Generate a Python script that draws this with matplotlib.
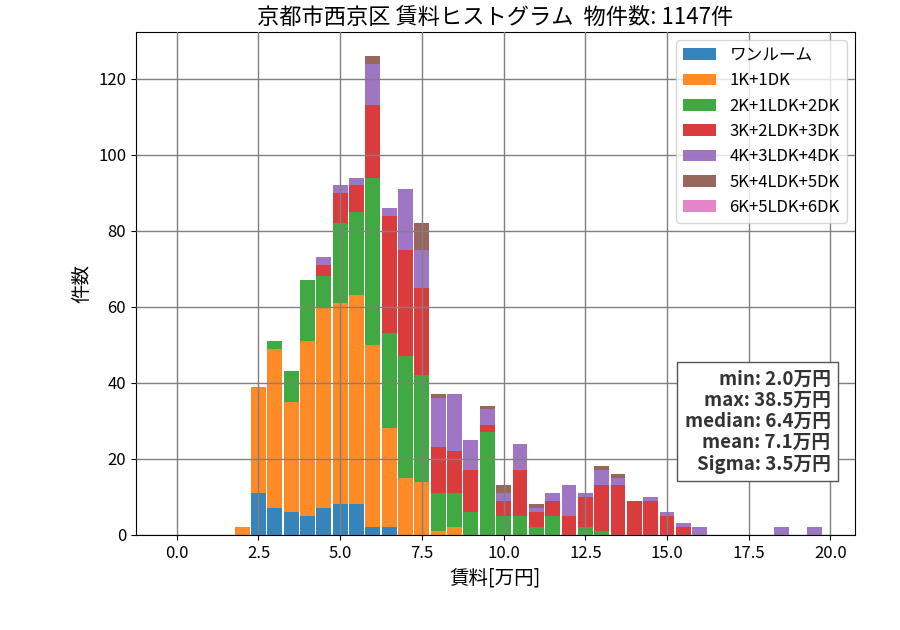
import matplotlib
matplotlib.use("Agg")
import matplotlib.pyplot as plt
import numpy as np

plt.rcParams['font.family'] = ['Noto Sans CJK JP', 'DejaVu Sans']

centers = [2.0, 2.5, 3.0, 3.5, 4.0, 4.5, 5.0, 5.5, 6.0, 6.5, 7.0, 7.5, 8.0, 8.5, 9.0, 9.5,
           10.0, 10.5, 11.0, 11.5, 12.0, 12.5, 13.0, 13.5, 14.0, 14.5, 15.0, 15.5, 16.0, 18.5, 19.5]
series_names = ["ワンルーム", "1K+1DK", "2K+1LDK+2DK", "3K+2LDK+3DK", "4K+3LDK+4DK", "5K+4LDK+5DK", "6K+5LDK+6DK"]
one_room = [0, 11, 7, 6, 5, 7, 8, 8, 2, 2, 0, 0, 0, 0, 0, 0, 0, 0, 0, 0, 0, 0, 0, 0, 0, 0, 0, 0, 0, 0, 0]
k1 = [2, 28, 42, 29, 46, 53, 53, 55, 48, 26, 15, 14, 1, 2, 0, 0, 0, 0, 0, 0, 0, 0, 0, 0, 0, 0, 0, 0, 0, 0, 0]
k2 = [0, 0, 2, 8, 16, 8, 21, 22, 44, 25, 32, 28, 10, 9, 6, 27, 5, 5, 2, 5, 0, 2, 1, 0, 0, 0, 0, 0, 0, 0, 0]
k3 = [0, 0, 0, 0, 0, 3, 8, 7, 19, 31, 28, 23, 12, 11, 11, 2, 4, 12, 4, 4, 5, 8, 12, 13, 9, 9, 5, 2, 0, 0, 0]
k4 = [0, 0, 0, 0, 0, 2, 2, 2, 11, 2, 16, 10, 13, 15, 8, 4, 2, 7, 1, 2, 8, 1, 4, 2, 0, 1, 1, 1, 2, 2, 2]
k5 = [0, 0, 0, 0, 0, 0, 0, 0, 2, 0, 0, 7, 1, 0, 0, 1, 2, 0, 1, 0, 0, 0, 1, 1, 0, 0, 0, 0, 0, 0, 0]
k6 = [0] * len(centers)
total_count = 1147
stats_lines = ["min: 2.0万円", "max: 38.5万円", "median: 6.4万円", "mean: 7.1万円", "Sigma: 3.5万円"]

series = [one_room, k1, k2, k3, k4, k5, k6]
colors = ['tab:blue', 'tab:orange', 'tab:green', 'tab:red', 'tab:purple', 'tab:brown', 'tab:pink']

fig = plt.figure(figsize=(9, 6.3), dpi=100)
ax = fig.add_axes([0.151, 0.151, 0.799, 0.798])

x = np.array(centers)
bottom = np.zeros(len(centers))
for name, vals, c in zip(series_names, series, colors):
    v = np.array(vals, dtype=float)
    ax.bar(x, v, width=0.455, bottom=bottom, color=c, alpha=0.9, label=name, zorder=1)
    bottom += v

ax.set_xlim(-1.25, 20.75)
ax.set_ylim(0, bottom.max() * 1.05)
ax.set_xticks(np.arange(0, 20.1, 2.5))
ax.grid(True, color='gray', linewidth=1, zorder=3)
ax.set_axisbelow(False)
ax.tick_params(labelsize=12)

ax.set_title(f"京都市西京区 賃料ヒストグラム  物件数: {total_count}件", fontsize=16)
ax.set_xlabel("賃料[万円]", fontsize=14)
ax.set_ylabel("件数", fontsize=14)
ax.legend(loc='upper right', fontsize=12)

ax.text(0.966, 0.122, "\n".join(stats_lines), transform=ax.transAxes, ha='right', va='bottom',
        fontsize=13.5, fontweight='bold', color='#333333', linespacing=1.15,
        bbox=dict(boxstyle='square,pad=0.38', facecolor='white', edgecolor='#555555'), zorder=5)

fig.savefig("out.png", dpi=100)
